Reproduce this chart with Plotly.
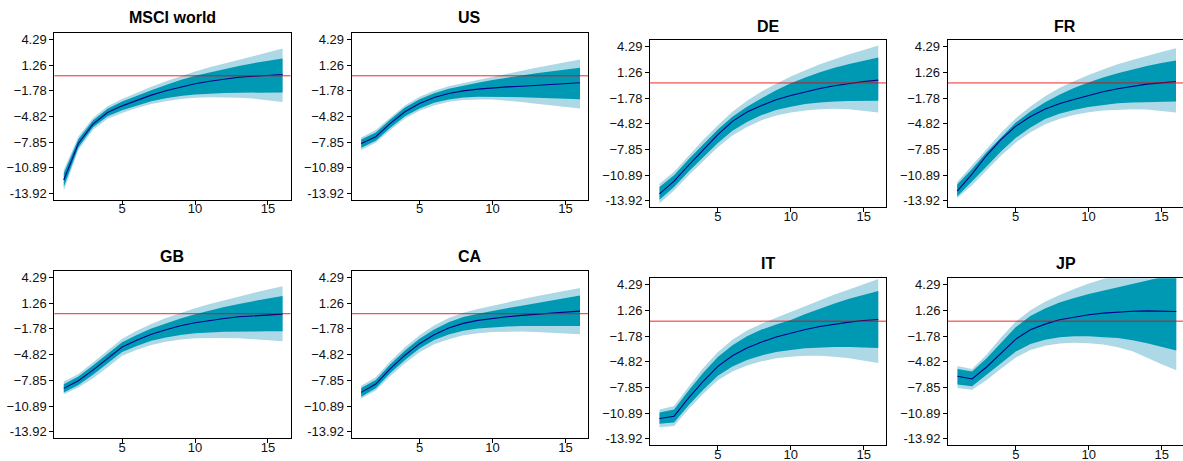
import plotly.graph_objects as go

W, H = 1183, 461

horizon = list(range(1, 17))
ytick_vals = [-13.92, -10.885, -7.85, -4.815, -1.78, 1.255, 4.29]
ytick_text = ["-13.92", "−10.89", "−7.85", "−4.82", "−1.78", "1.26", "4.29"]
xtick_vals = [5, 10, 15]

# ---------------- data ----------------
msci_median = [-12.34, -8.01, -5.72, -4.34, -3.56, -2.88, -2.29, -1.78, -1.34, -0.95, -0.64, -0.36, -0.17, -0.05, 0.07, 0.15]
msci_in_hi = [-11.55, -7.5, -5.3, -3.9, -3.05, -2.35, -1.7, -1.1, -0.5, 0.0, 0.4, 0.8, 1.15, 1.5, 1.8, 2.04]
msci_in_lo = [-13.14, -8.5, -6.1, -4.8, -4.07, -3.5, -3.0, -2.65, -2.4, -2.22, -2.12, -2.05, -2.0, -1.98, -1.97, -1.98]
msci_out_hi = [-11.16, -7.2, -5.0, -3.6, -2.75, -2.0, -1.3, -0.65, -0.05, 0.5, 1.0, 1.45, 1.9, 2.35, 2.8, 3.23]
msci_out_lo = [-13.6, -8.8, -6.4, -5.1, -4.4, -3.8, -3.35, -3.0, -2.75, -2.6, -2.55, -2.55, -2.6, -2.7, -2.9, -3.09]

us_median = [-8.01, -7.22, -5.64, -4.26, -3.28, -2.57, -2.09, -1.78, -1.58, -1.43, -1.31, -1.23, -1.11, -1.03, -0.95, -0.83]
us_in_hi = [-7.53, -6.71, -5.17, -3.75, -2.77, -2.06, -1.54, -1.15, -0.83, -0.5, -0.2, 0.05, 0.3, 0.52, 0.74, 0.94]
us_in_lo = [-8.52, -7.69, -6.15, -4.78, -3.87, -3.2, -2.8, -2.57, -2.49, -2.49, -2.52, -2.55, -2.6, -2.65, -2.7, -2.77]
us_out_hi = [-7.3, -6.43, -4.93, -3.51, -2.49, -1.78, -1.23, -0.83, -0.5, -0.15, 0.25, 0.6, 0.95, 1.28, 1.6, 1.93]
us_out_lo = [-8.8, -7.93, -6.43, -5.05, -4.14, -3.51, -3.08, -2.88, -2.8, -2.8, -2.95, -3.1, -3.3, -3.5, -3.7, -3.87]

de_median = [-13.1, -11.6, -9.72, -7.95, -6.1, -4.54, -3.44, -2.66, -1.99, -1.48, -1.05, -0.66, -0.34, -0.07, 0.17, 0.33]
de_in_hi = [-12.3, -10.9, -9.0, -7.2, -5.5, -4.0, -2.8, -1.8, -0.85, -0.05, 0.65, 1.25, 1.8, 2.25, 2.65, 2.99]
de_in_lo = [-13.8, -12.3, -10.45, -8.75, -7.1, -5.65, -4.6, -3.8, -3.2, -2.8, -2.5, -2.3, -2.2, -2.12, -2.1, -2.11]
de_out_hi = [-11.9, -10.5, -8.6, -6.7, -5.0, -3.4, -2.1, -1.0, -0.1, 0.75, 1.5, 2.2, 2.8, 3.4, 3.9, 4.41]
de_out_lo = [-14.2, -12.7, -10.9, -9.25, -7.6, -6.2, -5.2, -4.4, -3.85, -3.5, -3.25, -3.1, -3.05, -3.1, -3.25, -3.48]

fr_median = [-12.78, -10.8, -8.6, -6.7, -5.13, -4.0, -3.1, -2.45, -1.95, -1.48, -1.05, -0.69, -0.38, -0.14, 0.01, 0.17]
fr_in_hi = [-12.0, -10.2, -8.2, -6.4, -4.7, -3.4, -2.3, -1.4, -0.6, 0.05, 0.65, 1.15, 1.6, 2.0, 2.35, 2.64]
fr_in_lo = [-13.4, -11.7, -9.9, -8.1, -6.5, -5.3, -4.3, -3.65, -3.2, -2.85, -2.6, -2.4, -2.3, -2.22, -2.2, -2.19]
fr_out_hi = [-11.7, -9.8, -7.8, -5.9, -4.2, -2.8, -1.6, -0.6, 0.2, 0.95, 1.6, 2.2, 2.7, 3.2, 3.65, 4.09]
fr_out_lo = [-13.6, -12.1, -10.3, -8.6, -7.05, -5.85, -4.9, -4.25, -3.8, -3.45, -3.25, -3.15, -3.1, -3.15, -3.3, -3.48]

gb_median = [-8.8, -7.9, -6.65, -5.28, -3.92, -3.13, -2.43, -1.88, -1.42, -1.06, -0.79, -0.56, -0.36, -0.24, -0.12, -0.05]
gb_in_hi = [-8.3, -7.4, -6.1, -4.7, -3.35, -2.5, -1.75, -1.15, -0.55, -0.05, 0.4, 0.8, 1.15, 1.5, 1.8, 2.1]
gb_in_lo = [-9.3, -8.4, -7.2, -5.85, -4.5, -3.8, -3.2, -2.8, -2.5, -2.3, -2.2, -2.12, -2.08, -2.07, -2.07, -2.08]
gb_out_hi = [-8.0, -7.1, -5.75, -4.3, -2.95, -2.0, -1.2, -0.5, 0.1, 0.65, 1.15, 1.6, 2.05, 2.45, 2.85, 3.23]
gb_out_lo = [-9.5, -8.7, -7.6, -6.3, -4.95, -4.25, -3.7, -3.3, -3.05, -2.9, -2.85, -2.85, -2.9, -3.0, -3.1, -3.25]

ca_median = [-9.27, -8.29, -6.46, -4.89, -3.53, -2.47, -1.69, -1.14, -0.79, -0.56, -0.36, -0.2, -0.05, 0.07, 0.19, 0.3]
ca_in_hi = [-8.75, -7.8, -5.95, -4.35, -2.95, -1.85, -1.0, -0.4, 0.0, 0.35, 0.65, 0.95, 1.25, 1.55, 1.85, 2.14]
ca_in_lo = [-9.8, -8.8, -7.0, -5.45, -4.1, -3.1, -2.45, -2.0, -1.75, -1.6, -1.5, -1.45, -1.43, -1.43, -1.44, -1.45]
ca_out_hi = [-8.5, -7.5, -5.6, -3.95, -2.55, -1.4, -0.5, 0.1, 0.55, 0.95, 1.35, 1.7, 2.05, 2.4, 2.7, 3.04]
ca_out_lo = [-10.0, -9.05, -7.35, -5.85, -4.55, -3.6, -3.0, -2.55, -2.3, -2.15, -2.1, -2.1, -2.15, -2.22, -2.32, -2.43]

it_median = [-11.52, -11.24, -9.08, -7.11, -5.34, -4.09, -3.18, -2.47, -1.88, -1.41, -0.98, -0.63, -0.35, -0.11, 0.08, 0.2]
it_in_hi = [-10.8, -10.45, -8.2, -6.1, -4.25, -2.85, -1.8, -1.0, -0.4, 0.15, 0.85, 1.5, 2.1, 2.65, 3.15, 3.58]
it_in_lo = [-12.15, -12.0, -9.95, -8.1, -6.45, -5.35, -4.6, -4.05, -3.65, -3.4, -3.2, -3.1, -3.05, -3.05, -3.1, -3.18]
it_out_hi = [-10.45, -10.05, -7.75, -5.55, -3.65, -2.2, -1.1, -0.3, 0.4, 1.1, 1.8, 2.5, 3.15, 3.75, 4.4, 5.0]
it_out_lo = [-12.55, -12.4, -10.4, -8.6, -7.0, -5.95, -5.25, -4.75, -4.4, -4.2, -4.1, -4.1, -4.2, -4.4, -4.65, -4.95]

jp_median = [-6.52, -6.84, -5.42, -3.77, -2.12, -1.02, -0.35, 0.16, 0.48, 0.75, 0.95, 1.11, 1.18, 1.22, 1.18, 1.14]
jp_in_hi = [-5.65, -5.95, -4.4, -2.5, -0.7, 0.6, 1.5, 2.2, 2.75, 3.2, 3.6, 4.0, 4.4, 4.85, 5.25, 5.6]
jp_in_lo = [-7.5, -7.7, -6.4, -5.0, -3.6, -2.7, -2.2, -1.9, -1.8, -1.8, -1.9, -2.0, -2.25, -2.6, -3.0, -3.46]
jp_out_hi = [-5.3, -5.65, -3.95, -1.9, -0.05, 1.3, 2.3, 3.1, 3.8, 4.45, 5.0, 5.5, 5.9, 6.3, 6.7, 7.0]
jp_out_lo = [-7.9, -8.1, -6.95, -5.6, -4.3, -3.4, -2.9, -2.65, -2.55, -2.6, -2.75, -3.1, -3.55, -4.3, -5.1, -5.82]

titles = ["MSCI world", "US", "DE", "FR", "GB", "CA", "IT", "JP"]
series = [
    (msci_median, msci_in_lo, msci_in_hi, msci_out_lo, msci_out_hi),
    (us_median, us_in_lo, us_in_hi, us_out_lo, us_out_hi),
    (de_median, de_in_lo, de_in_hi, de_out_lo, de_out_hi),
    (fr_median, fr_in_lo, fr_in_hi, fr_out_lo, fr_out_hi),
    (gb_median, gb_in_lo, gb_in_hi, gb_out_lo, gb_out_hi),
    (ca_median, ca_in_lo, ca_in_hi, ca_out_lo, ca_out_hi),
    (it_median, it_in_lo, it_in_hi, it_out_lo, it_out_hi),
    (jp_median, jp_in_lo, jp_in_hi, jp_out_lo, jp_out_hi),
]

# ---------------- layout (pixel boxes: x0, x1, ytop, ybottom, title centre y) ----------------
boxes = [
    (54.3, 290.5, 33.0, 199.5, 17.3),
    (351.7, 588.0, 33.0, 199.5, 17.3),
    (650.0, 886.3, 40.0, 207.0, 26.0),
    (947.7, 1183.0, 40.0, 207.0, 26.0),
    (54.3, 290.5, 270.7, 438.0, 256.0),
    (351.7, 588.0, 270.7, 438.0, 256.0),
    (650.0, 886.3, 278.3, 445.0, 263.3),
    (948.0, 1183.0, 278.3, 445.0, 263.3),
]
XR0 = 0.35
PX_PER_UNIT = 236.3 / 16.2
YRANGE = [-14.65, 5.07]

LIGHT = "#ADD8E6"
DARK = "#0099B4"
NAVY = "#00008B"
RED = "rgba(240,0,0,0.85)"
FONT = "Liberation Sans, Arial, sans-serif"
TICKSIZE = 13

fig = go.Figure()
layout = dict(
    width=W, height=H, margin=dict(l=0, r=0, t=0, b=0, autoexpand=False),
    paper_bgcolor="white", plot_bgcolor="white", showlegend=False,
    font=dict(family=FONT, size=TICKSIZE, color="#111"),
)
annotations = []
shapes = []

for i, (title, (med, ilo, ihi, olo, ohi), box) in enumerate(zip(titles, series, boxes)):
    k = i + 1
    xa = "x" if k == 1 else f"x{k}"
    ya = "y" if k == 1 else f"y{k}"
    x0, x1, yt, yb, ty = box
    poly_x = horizon + horizon[::-1]
    fig.add_trace(go.Scatter(x=poly_x, y=ohi + olo[::-1], fill="toself", fillcolor=LIGHT,
                             line=dict(width=0), mode="lines", hoverinfo="skip",
                             xaxis=xa, yaxis=ya))
    fig.add_trace(go.Scatter(x=poly_x, y=ihi + ilo[::-1], fill="toself", fillcolor=DARK,
                             line=dict(width=0), mode="lines", hoverinfo="skip",
                             xaxis=xa, yaxis=ya))
    fig.add_trace(go.Scatter(x=horizon, y=med, mode="lines", line=dict(color=NAVY, width=1.1),
                             xaxis=xa, yaxis=ya))
    right_edge = x1 >= W - 0.5
    xr1 = XR0 + (x1 - x0) / PX_PER_UNIT
    layout["xaxis" if k == 1 else f"xaxis{k}"] = dict(
        domain=[x0 / W, min(x1 / W, 1.0)], anchor=ya, range=[XR0, xr1],
        tickvals=xtick_vals, ticks="outside", ticklen=4, tickcolor="black",
        showline=True, linecolor="black", linewidth=1, mirror=True,
        showgrid=False, zeroline=False, tickfont=dict(size=TICKSIZE, color="#111"),
        fixedrange=True, automargin=False, ticklabelstandoff=-7,
    )
    layout["yaxis" if k == 1 else f"yaxis{k}"] = dict(
        domain=[1 - yb / H, 1 - yt / H], anchor=xa, range=YRANGE,
        tickvals=ytick_vals, ticktext=ytick_text, ticks="outside", ticklen=4,
        tickcolor="black", showline=True, linecolor="black", linewidth=1,
        mirror=not right_edge, showgrid=False, zeroline=False,
        tickfont=dict(size=TICKSIZE, color="#111"), fixedrange=True, automargin=False,
    )
    shapes.append(dict(type="line", xref=f"{xa} domain", yref=ya, x0=0, x1=1, y0=0, y1=0,
                       line=dict(color=RED, width=1), layer="above"))
    annotations.append(dict(text=f"<b>{title}</b>", xref="paper", yref="paper",
                            x=(x0 + x1) / 2 / W, y=1 - ty / H, xanchor="center", yanchor="middle",
                            showarrow=False, font=dict(family=FONT, size=16, color="black")))

layout["annotations"] = annotations
layout["shapes"] = shapes
fig.update_layout(**layout)
fig.write_html(
    "out.html",
    config={"displayModeBar": False, "staticPlot": True},
    post_script="document.body.style.margin='0px';document.body.style.overflow='hidden';",
)
